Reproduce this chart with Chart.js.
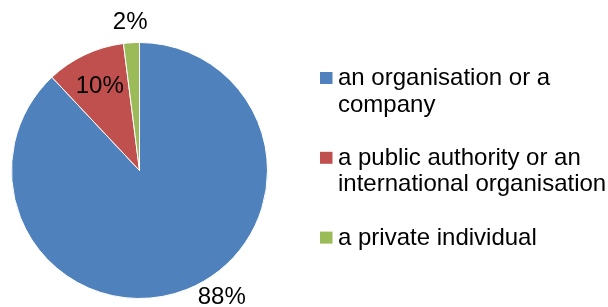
<!DOCTYPE html>
<html>
<head>
<meta charset="utf-8">
<script src="https://cdn.jsdelivr.net/npm/chart.js@4"></script>
<style>
  html, body { margin: 0; padding: 0; background: #fff; }
  #wrap { width: 608px; height: 307px; }
</style>
</head>
<body>
<div id="wrap"><canvas id="grafico" width="608" height="307"></canvas></div>
<script>
const categorias = ["an organisation or a company", "a public authority or an international organisation", "a private individual"];
const valores = [88, 10, 2];
const rotulos = ["88%", "10%", "2%"];
const cores = ["#4F81BD", "#C0504D", "#9BBB59"];

const fonte = "24px 'Liberation Sans', Arial, sans-serif";

// where each % label goes: fraction along the slice, distance as a multiple of the radius
const posRotulo = [[0.464, 1.18], [0.5, 0.73], [0.5, 1.16]];

function quebrar(ctx, texto, largura) {
    const palavras = texto.split(" ");
    let linhas = [];
    let atual = "";
    for (let p of palavras) {
        let teste = atual ? atual + " " + p : p;
        if (ctx.measureText(teste).width > largura && atual) {
            linhas.push(atual);
            atual = p;
        } else {
            atual = teste;
        }
    }
    linhas.push(atual);
    return linhas;
}

const rotulosPlugin = {
    id: "rotulos",
    afterDatasetsDraw(chart) {
        const ctx = chart.ctx;
        const arcos = chart.getDatasetMeta(0).data;
        ctx.save();
        ctx.font = fonte;
        ctx.fillStyle = "#000";
        ctx.textAlign = "center";
        ctx.textBaseline = "middle";
        arcos.forEach((arco, i) => {
            const [frac, dist] = posRotulo[i];
            const ang = arco.startAngle + (arco.endAngle - arco.startAngle) * frac;
            const r = arco.outerRadius * dist;
            ctx.fillText(rotulos[i], arco.x + Math.cos(ang) * r, arco.y + Math.sin(ang) * r);
        });
        ctx.restore();
    },
};

const legendaPlugin = {
    id: "legenda",
    afterDraw(chart) {
        const ctx = chart.ctx;
        ctx.save();
        ctx.font = fonte;
        ctx.textAlign = "left";
        ctx.textBaseline = "alphabetic";
        const altLinha = 26.6;
        let y = 85;
        categorias.forEach((cat, i) => {
            ctx.fillStyle = cores[i];
            ctx.fillRect(320, y - 13, 12.5, 12);
            ctx.fillStyle = "#000";
            const linhas = quebrar(ctx, cat, 275);
            linhas.forEach((l, k) => ctx.fillText(l, 338, y + k * altLinha));
            y += (linhas.length + 1) * altLinha;
        });
        ctx.restore();
    },
};

new Chart(document.getElementById("grafico"), {
    type: "pie",
    data: {
        labels: categorias,
        datasets: [
            {
                data: valores,
                backgroundColor: cores,
                borderColor: "#ffffff",
                borderWidth: 1,
            },
        ],
    },
    options: {
        responsive: false,
        animation: false,
        layout: { padding: { left: 11, right: 340, top: 42, bottom: 8 } },
        plugins: {
            legend: { display: false },
            tooltip: { enabled: false },
        },
    },
    plugins: [rotulosPlugin, legendaPlugin],
});
</script>
</body>
</html>
